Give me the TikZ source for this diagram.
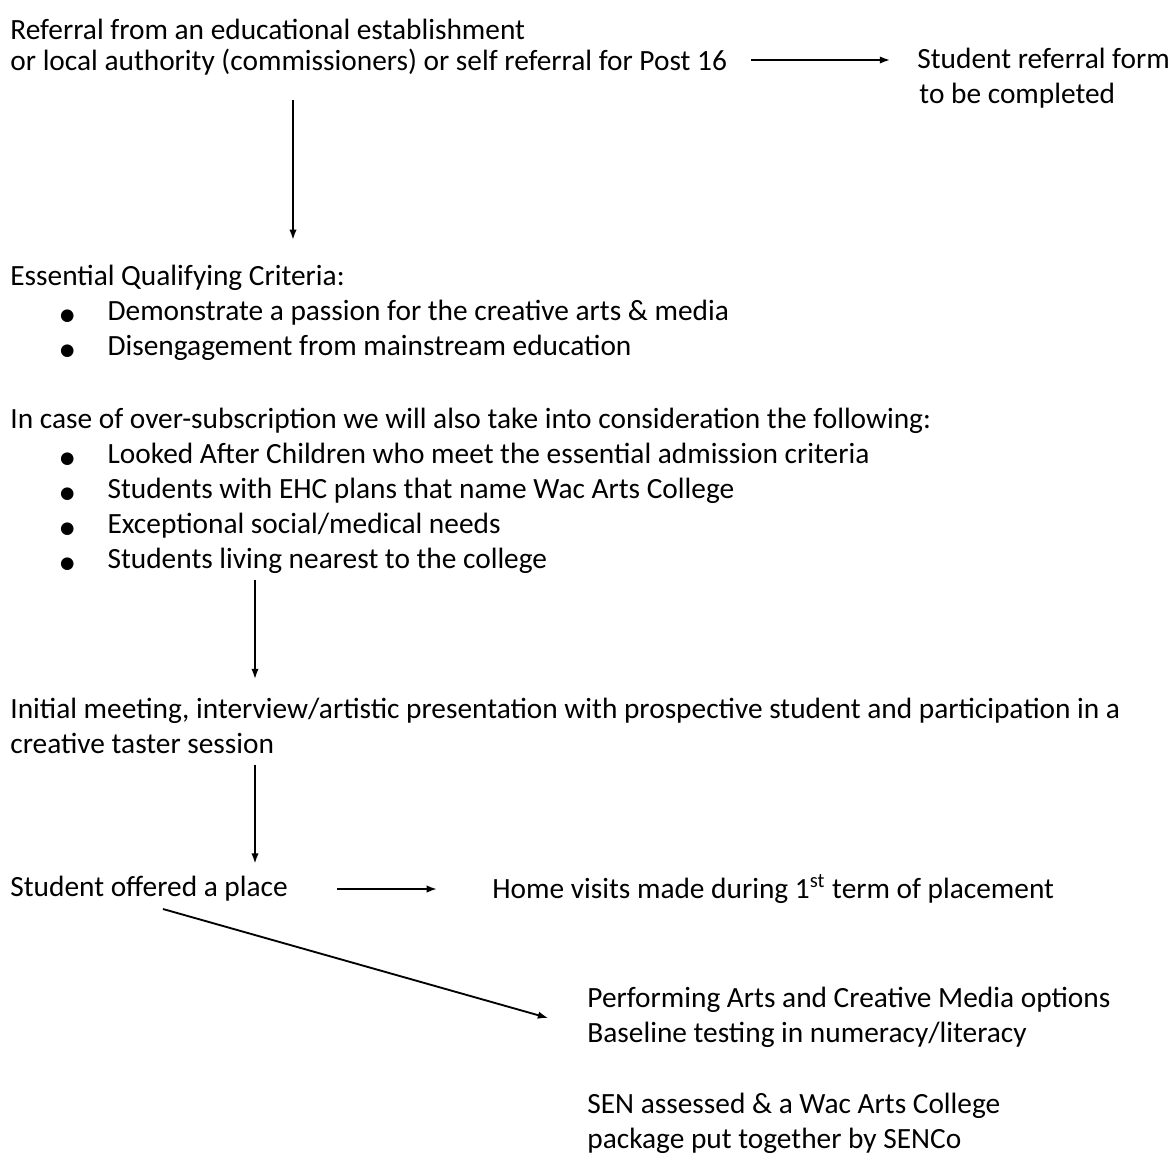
\documentclass[tikz,border=0pt]{standalone}
\usepackage{fontspec}
\setmainfont{Carlito}
\newfontfamily\symfont{DejaVu Sans}
\usetikzlibrary{arrows.meta}

\newcommand{\itm}[1]{\makebox[47pt][l]{\hspace{24pt}{\symfont\fontsize{8pt}{8pt}\selectfont ●}}#1}

\tikzset{
    txt/.style = {anchor=west, inner sep=0pt, align=left, font=\fontsize{14.2pt}{17pt}\selectfont},
    arr/.style = {-{Latex[length=5pt,width=3.6pt]}, line width=0.9pt}
}

\begin{document}
\begin{tikzpicture}[x=0.017cm, y=-0.017cm]
    \useasboundingbox (0,0) rectangle (1175,1154);

    \node [txt, font=\fontsize{14.2pt}{15pt}\selectfont] (ref) at (10,47) {Referral from an educational establishment\\or local authority (commissioners) or self referral for Post 16};
    \node [txt] (form) at (917,78) {Student referral form\\\hspace{1pt}to be completed};
    \node [txt] (crit) at (10,313) {Essential Qualifying Criteria:\\
        \itm{Demonstrate a passion for the creative arts \& media}\\
        \itm{Disengagement from mainstream education}};
    \node [txt] (cons) at (10,491) {In case of over-subscription we will also take into consideration the following:\\
        \itm{Looked After Children who meet the essential admission criteria}\\
        \itm{Students with EHC plans that name Wac Arts College}\\
        \itm{Exceptional social/medical needs}\\
        \itm{Students living nearest to the college}};
    \node [txt] (meet) at (10,726) {Initial meeting, interview/artistic presentation with prospective student and participation in a\\creative taster session};
    \node [txt] (offer) at (10,889) {Student offered a place};
    \node [txt] (home) at (492,889) {Home visits made during 1\textsuperscript{st} term of placement};
    \node [txt] (opts) at (587,1017) {Performing Arts and Creative Media options\\Baseline testing in numeracy/literacy};
    \node [txt] (sen) at (587,1123) {SEN assessed \& a Wac Arts College\\package put together by SENCo};

    \draw [arr, shorten <=11.5pt, shorten >=13pt] (ref.east |- 0,60) -- (form.west |- 0,60);
    \draw [arr, shorten <=12pt, shorten >=12pt] (ref.south -| 293,0) -- (crit.north -| 293,0);
    \draw [arr, shorten <=2.5pt, shorten >=9pt] (cons.south -| 255,0) -- (meet.north -| 255,0);
    \draw [arr, shorten <=5pt, shorten >=6pt] (meet.south -| 255,0) -- (offer.north -| 255,0);
    \draw [arr, shorten <=23.5pt, shorten >=26.6pt] (offer.east) -- (home.west);
    \draw [arr, shorten >=19.5pt] ([yshift=-3.4pt]offer.south -| 163,0) -- (opts.west |- 0,1029);
\end{tikzpicture}
\end{document}
